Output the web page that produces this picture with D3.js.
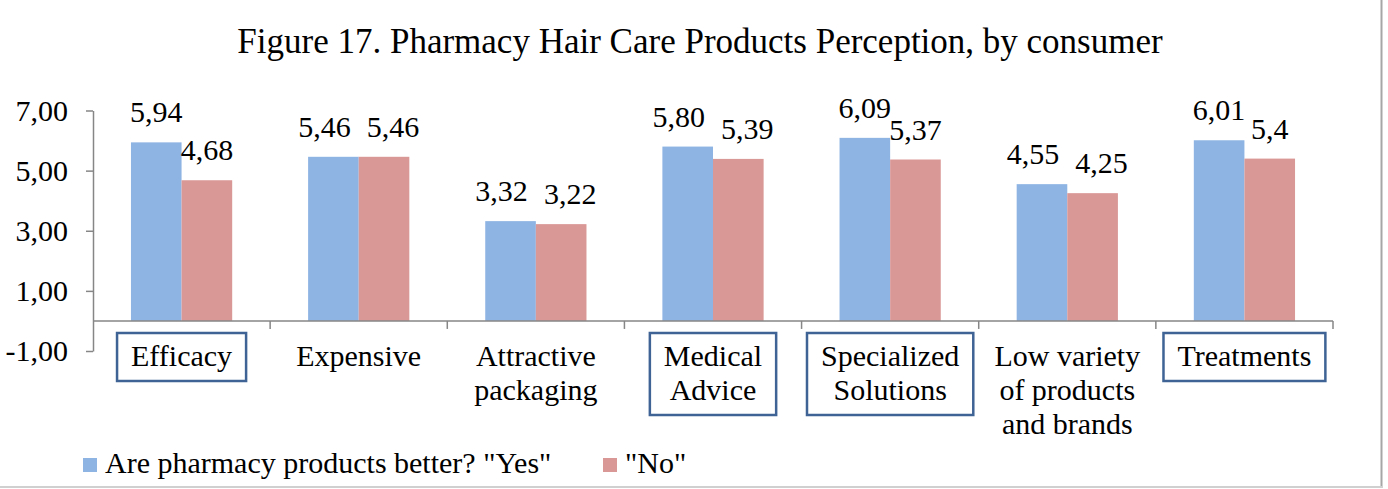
<!DOCTYPE html>
<html>
<head>
<meta charset="utf-8">
<script src="https://cdn.jsdelivr.net/npm/d3@7"></script>
<style>
  html, body { margin: 0; padding: 0; background: #fff; }
  svg { display: block; font-family: "Liberation Serif", "Times New Roman", serif; }
</style>
</head>
<body>
<div id="chart"></div>
<script>
const categories = ["Efficacy", "Expensive", "Attractive packaging", "Medical Advice",
  "Specialized Solutions", "Low variety of products and brands", "Treatments"];
const yesValues = [5.94, 5.46, 3.32, 5.80, 6.09, 4.55, 6.01];
const noValues = [4.68, 5.46, 3.22, 5.39, 5.37, 4.25, 5.4];
const noLabels = ["4,68", "5,46", "3,22", "5,39", "5,37", "4,25", "5,4"];
const yTicks = [-1, 1, 3, 5, 7];
const highlighted = ["Efficacy", "Medical Advice", "Specialized Solutions", "Treatments"];
const seriesNames = ['Are pharmacy products better? "Yes"', '"No"'];

const WIDTH = 1388, HEIGHT = 489;
const COLORS = { yes: "#8EB4E3", no: "#D99795", axis: "#868686", box: "#3E6394" };
const FONT = 30;

const svg = d3.select("#chart").append("svg")
  .attr("width", WIDTH)
  .attr("height", HEIGHT);

// Title
svg.append("text")
  .attr("x", 700)
  .attr("y", 53)
  .attr("text-anchor", "middle")
  .attr("font-size", 35)
  .text("Figure 17. Pharmacy Hair Care Products Perception, by consumer");

const x = d3.scaleBand().domain(categories).range([93, 1333]);
const x1 = d3.scaleBand().domain(["yes", "no"]).range([0, x.bandwidth()]).paddingOuter(0.75);
const y = d3.scaleLinear().domain([-1, 7]).range([351, 110.5]);

const fmt = d => d.toFixed(2).replace(".", ",");

// Y axis
const yAxis = svg.append("g")
  .attr("transform", "translate(93,0)")
  .call(d3.axisLeft(y).tickValues(yTicks).tickFormat(fmt).tickSize(7).tickSizeOuter(0).tickPadding(18));
yAxis.select(".domain").attr("stroke", COLORS.axis).attr("stroke-width", 1.5);
yAxis.selectAll(".tick line").attr("stroke", COLORS.axis).attr("stroke-width", 1.5);
yAxis.selectAll(".tick text")
  .attr("font-size", FONT)
  .attr("font-family", "Liberation Serif, Times New Roman, serif")
  .attr("fill", "#000");

// Bars
const rows = categories.map((c, i) => ({ cat: c, yes: yesValues[i], no: noValues[i], noLabel: noLabels[i] }));
const groups = svg.selectAll(".cat").data(rows).join("g")
  .attr("class", "cat")
  .attr("transform", d => `translate(${x(d.cat)},0)`);

["yes", "no"].forEach(key => {
  groups.append("rect")
    .attr("x", x1(key))
    .attr("width", x1.bandwidth())
    .attr("y", d => y(Math.max(0, d[key])))
    .attr("height", d => Math.abs(y(d[key]) - y(0)))
    .attr("fill", COLORS[key]);
});

// Data labels (pushed apart a little when both labels sit at nearly the same height)
groups.each(function (d) {
  const g = d3.select(this);
  const close = Math.abs(d.yes - d.no) < 0.5;
  g.append("text")
    .attr("x", x1("yes") + x1.bandwidth() / 2 - (close ? 9 : 0))
    .attr("y", y(d.yes) - 20)
    .attr("text-anchor", "middle")
    .attr("font-size", FONT)
    .text(fmt(d.yes));
  g.append("text")
    .attr("x", x1("no") + x1.bandwidth() / 2 + (close ? 9 : 0))
    .attr("y", y(d.no) - 20)
    .attr("text-anchor", "middle")
    .attr("font-size", FONT)
    .text(d.noLabel);
});

// X axis at zero
svg.append("line")
  .attr("x1", x.range()[0]).attr("x2", x.range()[1])
  .attr("y1", y(0)).attr("y2", y(0))
  .attr("stroke", COLORS.axis).attr("stroke-width", 1.5);
const bounds = categories.map(c => x(c)).concat([x.range()[1]]);
svg.selectAll(".xtick").data(bounds.slice(1)).join("line")
  .attr("class", "xtick")
  .attr("x1", d => d).attr("x2", d => d)
  .attr("y1", y(0)).attr("y2", y(0) + 8)
  .attr("stroke", COLORS.axis).attr("stroke-width", 1.5);

// Category labels, wrapped, some boxed
const lineHeight = 34;
categories.forEach(c => {
  const cx = x(c) + x.bandwidth() / 2;
  const t = svg.append("text")
    .attr("x", cx)
    .attr("y", 366)
    .attr("text-anchor", "middle")
    .attr("font-size", FONT);
  const words = c.split(" ");
  let line = [];
  let tspan = t.append("tspan").attr("x", cx).attr("y", 366);
  let n = 0;
  words.forEach(w => {
    line.push(w);
    tspan.text(line.join(" "));
    if (tspan.node().getComputedTextLength() > 164 && line.length > 1) {
      line.pop();
      tspan.text(line.join(" "));
      line = [w];
      n++;
      tspan = t.append("tspan").attr("x", cx).attr("y", 366 + n * lineHeight).text(w);
    }
  });
  if (highlighted.includes(c)) {
    let maxW = 0;
    t.selectAll("tspan").each(function () { maxW = Math.max(maxW, this.getComputedTextLength()); });
    svg.append("rect")
      .attr("x", cx - maxW / 2 - 14)
      .attr("y", 333)
      .attr("width", maxW + 28)
      .attr("height", (366 + n * lineHeight + 15) - 333)
      .attr("fill", "none")
      .attr("stroke", COLORS.box)
      .attr("stroke-width", 2.5);
  }
});

// Legend
const legendItems = [
  { name: seriesNames[0], color: COLORS.yes, x: 83 },
  { name: seriesNames[1], color: COLORS.no, x: 603 }
];
const legend = svg.selectAll(".legend").data(legendItems).join("g")
  .attr("class", "legend")
  .attr("transform", d => `translate(${d.x},458)`);
legend.append("rect").attr("width", 14).attr("height", 14).attr("fill", d => d.color);
legend.append("text")
  .attr("x", 22).attr("y", 15)
  .attr("font-size", FONT)
  .text(d => d.name);

// Outer frame edges
svg.append("line")
  .attr("x1", 1381.5).attr("x2", 1381.5).attr("y1", 0).attr("y2", 488)
  .attr("stroke", "#A6A6A6").attr("stroke-width", 2);
svg.append("line")
  .attr("x1", 0).attr("x2", 1382).attr("y1", 487).attr("y2", 487)
  .attr("stroke", "#D0D0D0").attr("stroke-width", 2);
</script>
</body>
</html>
